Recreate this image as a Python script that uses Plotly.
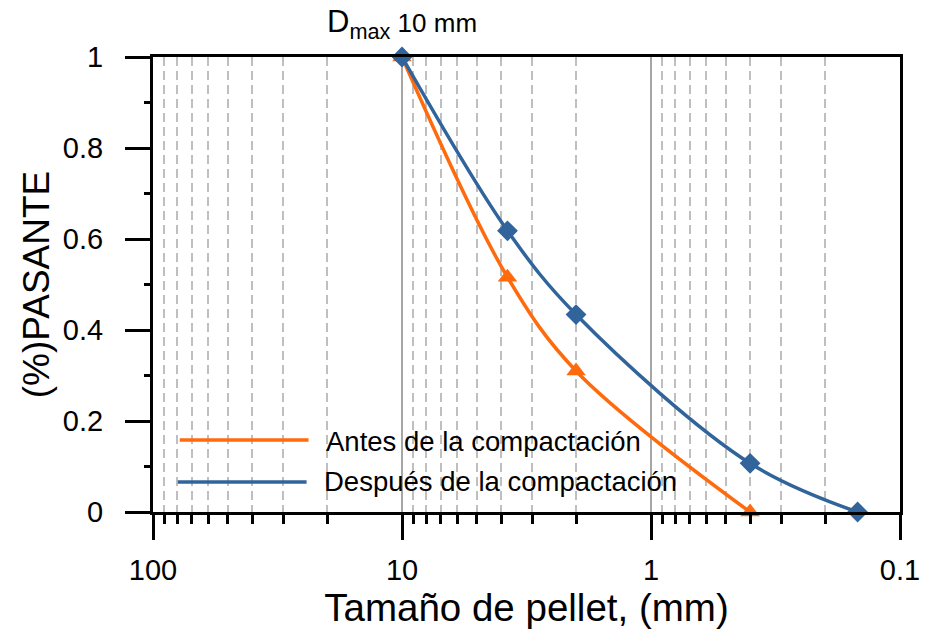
import plotly.graph_objects as go

# Data
size_antes = [10, 3.77, 2, 0.4]
pas_antes = [1.0, 0.516, 0.31, 0.0]
size_despues = [10, 3.77, 2, 0.4, 0.148]
pas_despues = [1.0, 0.618, 0.434, 0.107, 0.0]
label_antes = "Antes de la compactación"
label_despues = "Después de la compactación"
x_ticks = [100, 10, 1, 0.1]
x_tick_text = ["100", "10", "1", "0.1"]
x_minor = [90, 80, 70, 60, 50, 40, 30, 20, 9, 8, 7, 6, 5, 4, 3, 2,
           0.9, 0.8, 0.7, 0.6, 0.5, 0.4, 0.3, 0.2]

ORANGE = "#FF6A0D"
BLUE = "#31649B"
FONT = "Liberation Sans, Arial, sans-serif"

L, R, T, B = 153, 25, 57, 123
PW, PH = 932 - L - R, 635 - T - B


def px(x):
    return (x - L) / PW


def py(y):
    return (635 - B - y) / PH


fig = go.Figure()
fig.add_trace(go.Scatter(x=size_antes, y=pas_antes, mode="lines+markers",
                         name=label_antes, cliponaxis=False,
                         line=dict(color=ORANGE, width=3.5, shape="spline", smoothing=1),
                         marker=dict(symbol="triangle-up", size=17, color=ORANGE),
                         showlegend=False))
fig.add_trace(go.Scatter(x=size_despues, y=pas_despues, mode="lines+markers",
                         name=label_despues, cliponaxis=False,
                         line=dict(color=BLUE, width=3.5, shape="spline", smoothing=1),
                         marker=dict(symbol="diamond", size=16, color=BLUE),
                         showlegend=False))

# legend drawn as shapes + text
fig.add_shape(type="line", xref="paper", yref="paper",
              x0=px(180), x1=px(310), y0=py(440), y1=py(440),
              line=dict(color=ORANGE, width=3.5))
fig.add_shape(type="line", xref="paper", yref="paper",
              x0=px(178), x1=px(308), y0=py(482), y1=py(482),
              line=dict(color=BLUE, width=3.5))
fig.add_annotation(xref="paper", yref="paper", x=px(326), y=py(441),
                   text=label_antes, showarrow=False, xanchor="left", yanchor="middle",
                   font=dict(size=27.5, color="black", family=FONT))
fig.add_annotation(xref="paper", yref="paper", x=px(324), y=py(481),
                   text=label_despues, showarrow=False, xanchor="left", yanchor="middle",
                   font=dict(size=27.5, color="black", family=FONT))
fig.add_annotation(x=1, xref="x", yref="paper", y=1.0, yanchor="bottom",
                   text="D<sub>max</sub><span style='font-size:26px'> 10 mm</span>",
                   showarrow=False, yshift=11,
                   font=dict(size=31, color="black", family=FONT))

fig.update_layout(
    width=932, height=635,
    margin=dict(l=L, r=R, t=T, b=B),
    plot_bgcolor="white", paper_bgcolor="white",
    font=dict(family=FONT, color="black"),
    xaxis=dict(type="log", range=[2, -1], tickmode="array", tickvals=x_ticks,
               ticktext=x_tick_text, ticks="outside", ticklen=25, tickwidth=3,
               tickcolor="black", showline=True, linecolor="black", linewidth=3,
               mirror=True, showgrid=True, gridcolor="#A6A6A6", gridwidth=2,
               zeroline=False, ticklabelstandoff=5,
               tickfont=dict(size=29),
               title=dict(text="Tamaño de pellet, (mm)", font=dict(size=38.5), standoff=2),
               minor=dict(tickmode="array", tickvals=x_minor, ticks="outside",
                          ticklen=9, tickwidth=3, tickcolor="black", showgrid=True,
                          gridcolor="#BFBFBF", gridwidth=1.5, griddash="9px,5px")),
    yaxis=dict(range=[0, 1], tickmode="linear", tick0=0, dtick=0.2,
               ticks="outside", ticklen=25, tickwidth=3, tickcolor="black",
               showline=True, linecolor="black", linewidth=3, mirror=True,
               showgrid=False, zeroline=False, tickfont=dict(size=29),
               ticklabelstandoff=16,
               title=dict(text="(%)PASANTE", font=dict(size=37), standoff=2),
               minor=dict(dtick=0.1, ticks="outside", ticklen=6, tickwidth=3,
                          tickcolor="black", showgrid=False)),
)

fig.write_html("out.html")
